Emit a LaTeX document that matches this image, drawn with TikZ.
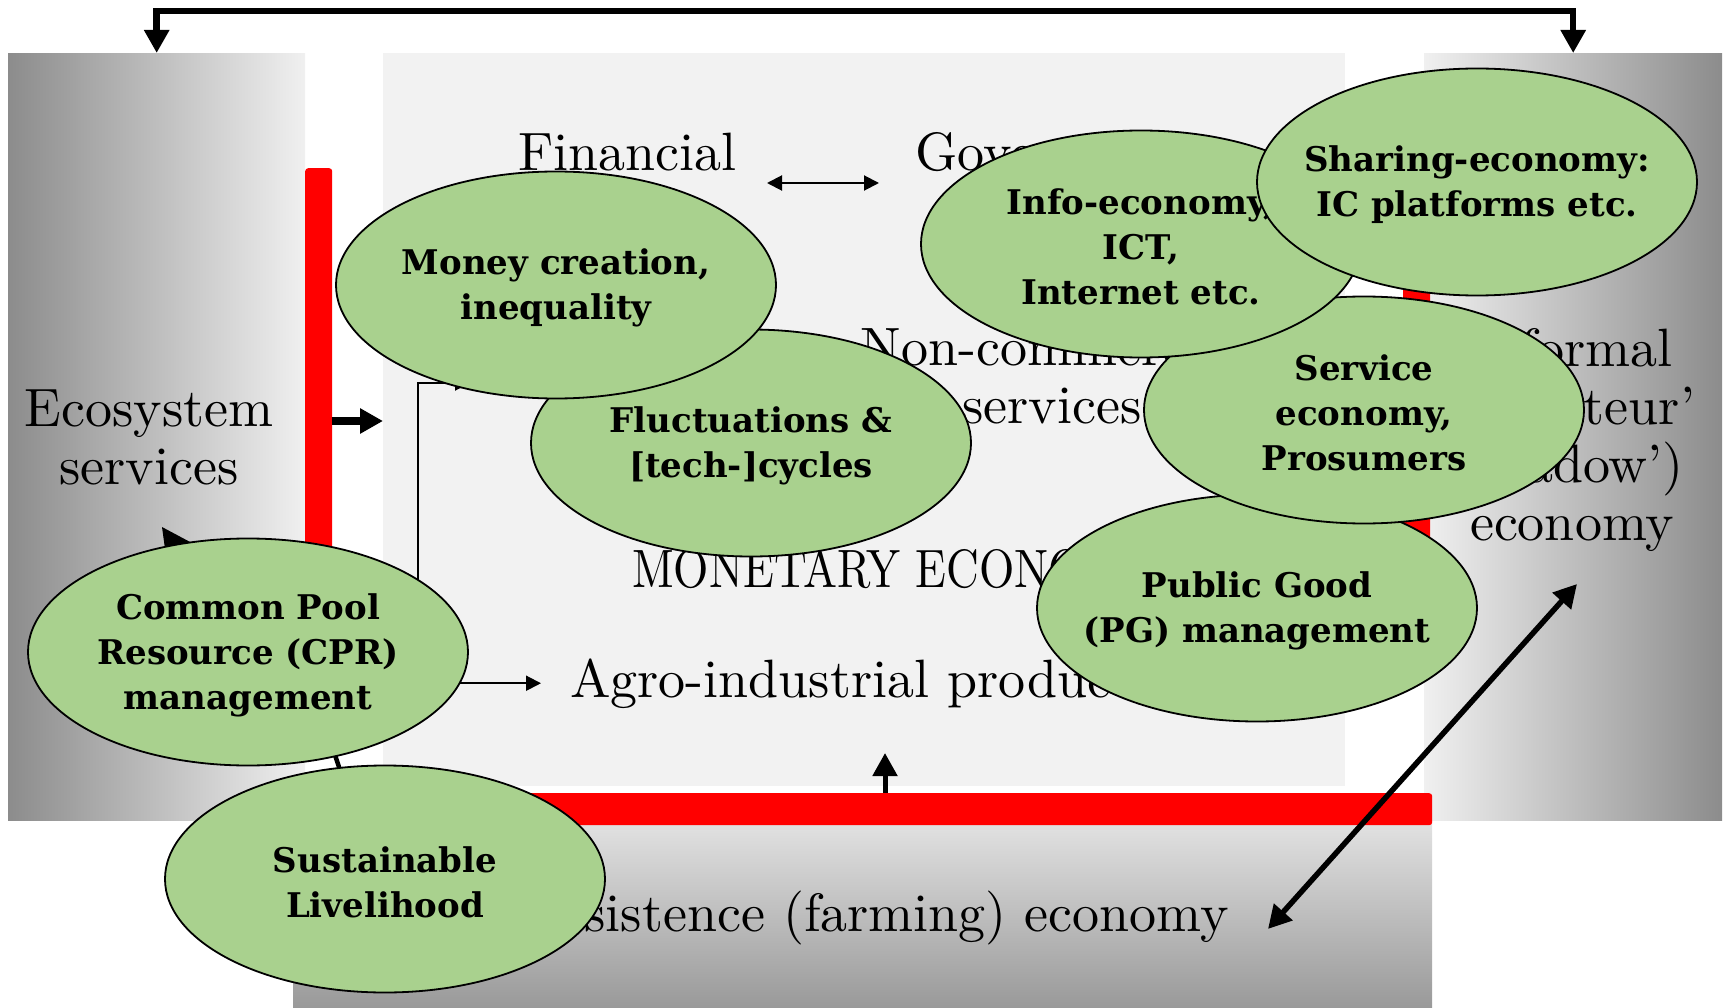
\documentclass[tikz,border=0pt]{standalone}
\usepackage{fontspec}
\usepackage{graphicx}
\setmainfont{lmroman10}[Extension=.otf,UprightFont=*-regular,BoldFont=*-bold,ItalicFont=*-italic]
\newfontfamily\ellfam{DejaVu Serif}
\usetikzlibrary{shapes.geometric,arrows.meta}
\pgfdeclarelayer{bg}
\pgfdeclarelayer{mid}
\pgfsetlayers{bg,mid,main}
\definecolor{ellg}{HTML}{A9D18E}
\definecolor{panelc}{HTML}{F2F2F2}
\definecolor{gdark}{HTML}{8C8C8C}
\definecolor{glight}{HTML}{F0F0F0}
\definecolor{btop}{HTML}{EDEDED}
\definecolor{bbot}{HTML}{999999}
\definecolor{redc}{HTML}{FF0000}
\begin{document}
\begin{tikzpicture}[x=1pt,y=-1pt,
  ell/.style={ellipse,draw=black,line width=1.8pt,fill=ellg,minimum width=440pt,minimum height=227pt,inner sep=0pt,label={[ellt]center:{#1}}},
  ellt/.style={inner sep=0pt,align=center,yshift=-3pt,font=\ellfam\bfseries\fontsize{34}{45}\selectfont},
  txt/.style={inner sep=0pt,font=\fontsize{54}{58}\selectfont},
  mtxt/.style={txt,align=center},
  panelbox/.style={draw=none,inner sep=0pt,anchor=north west},
  redst/.style={fill=redc,draw=none,rounded corners=3pt,inner sep=0pt,anchor=north west},
  bigtip/.tip={Triangle[width=24pt,length=23pt]},
  smalltip/.tip={Triangle[width=15pt,length=15pt]},
  bigarr/.style={line width=6pt,-bigtip},
  bigboth/.style={line width=6pt,bigtip-bigtip},
  thinarr/.style={line width=2pt,-smalltip},
  thinboth/.style={line width=2pt,smalltip-smalltip}
]
\useasboundingbox (0,0) rectangle (1727,1008);
% panels
\begin{pgfonlayer}{bg}
\node[panelbox,left color=gdark,right color=glight,minimum width=297pt,minimum height=767pt] (ecoP) at (8,53) {};
\node[panelbox,fill=panelc,minimum width=962pt,minimum height=733pt] (cent) at (383,53) {};
\node[panelbox,left color=glight,right color=gdark,minimum width=298pt,minimum height=767pt] (infP) at (1424,53) {};
\node[panelbox,top color=btop,bottom color=bbot,minimum width=1139pt,minimum height=215pt] (subP) at (293,793) {};
\end{pgfonlayer}
% ellipses
\node[ell={Fluctuations \&\\{[tech-]cycles}}] (flu) at (751,443) {};
\node[ell={Money creation,\\inequality}] (mon) at (556,285) {};
\node[ell={Public Good\\(PG) management}] (pg) at (1257,608) {};
\node[ell={Service\\economy,\\Prosumers}] (serv) at (1364,410) {};
\node[ell={Info-economy,\\ICT,\\Internet etc.}] (info) at (1141,244) {};
\node[ell={Sharing-economy:\\IC platforms etc.}] (shar) at (1477,182) {};
\node[ell={Common Pool\\Resource (CPR)\\management}] (cpr) at (248,652) {};
\node[ell={Sustainable\\Livelihood}] (sus) at (385,879) {};
\begin{pgfonlayer}{mid}
% red bars
\node[redst,minimum width=27pt,minimum height=552pt] (redL) at (305,168) {};
\node[redst,minimum width=27pt,minimum height=482pt] (redR) at (1403,168) {};
\node[redst,minimum width=982pt,minimum height=32pt] (redB) at (450,793) {};
% texts
\node[mtxt] (ecoT) at (149,437) {Ecosystem\\services};
\node[mtxt] (infT) at (1572,439.5) {Informal\\(‘amateur’\\‘shadow’)\\economy};
\node[mtxt] (ncT) at (1052,376) {Non-commercial\\services};
\node[txt,anchor=base west] (finT) at (518,171) {Financial};
\node[txt,anchor=base west] (govT) at (915,171) {Government};
\node[txt,anchor=base west] (monT) at (632,587) {\scalebox{0.84}[1]{MONETARY ECONOMY}};
\node[txt,anchor=base west] (agT) at (570,697) {Agro-industrial production};
\node[txt,anchor=base east] (subT) at (1229,931) {Subsistence (farming) economy};
% coordinates
\coordinate (fgL) at (767,183);
\coordinate (fgR) at (879,183);
\coordinate (csIn) at (470,383);
\coordinate (upT) at (885,753);
\coordinate (dA) at (1268,929);
\coordinate (dB) at (1577,584);
\coordinate (cprIn) at (320,710);
\coordinate (susIn) at (350,800);
% connectors
\draw[bigboth,line width=6.5pt] (ecoP.north) -- (ecoP.north |- 0,11) -| (infP.north);
\draw[bigarr,line width=8pt] (redL.east |- 0,421) -- (cent.west |- 0,421);
\draw[bigarr,line width=5pt] (redB.north -| upT) -- (upT);
\draw[bigboth,line width=5.5pt] (dA) -- (dB);
\draw[thinboth] (fgL) -- (fgR);
\draw[thinarr,shorten >=29pt] (cpr.center |- agT.west) -- (agT.west);
\draw[thinarr] (cpr.center -| 418,0) |- (csIn);
\draw[line width=4.5pt] (cprIn) -- (susIn);
\fill (162,527) -- (166,556) -- (192,543) -- cycle;
\end{pgfonlayer}
\end{tikzpicture}
\end{document}
